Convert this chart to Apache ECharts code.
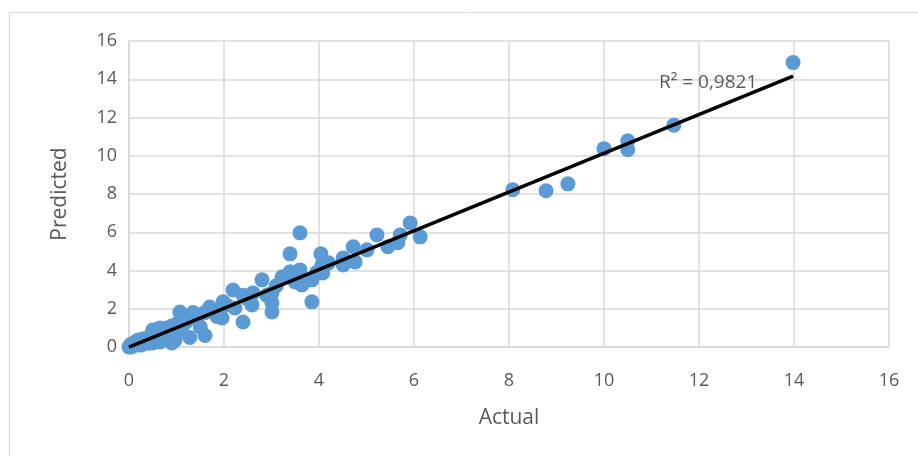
<!DOCTYPE html>
<html><head><meta charset="utf-8">
<script src="https://cdn.jsdelivr.net/npm/echarts@6/dist/echarts.min.js"></script>
<style>html,body{margin:0;padding:0;background:#fff}#c{width:918px;height:456px}</style>
</head><body><div id="c"></div>
<script>
const actual = [0,0.02,0.03,0.05,0.05,0.08,0.1,0.12,0.15,0.18,0.2,0.22,0.25,0.28,0.3,0.35,0.4,0.45,0.5,0.5,0.55,0.6,0.65,0.65,0.7,0.75,0.8,0.82,0.9,0.9,0.97,1.0,1.07,1.1,1.12,1.2,1.28,1.3,1.35,1.45,1.5,1.6,1.6,1.7,1.77,1.85,1.96,1.98,2.05,2.19,2.23,2.4,2.4,2.5,2.59,2.61,2.8,2.9,3.01,3.01,3.01,3.1,3.22,3.39,3.39,3.5,3.6,3.6,3.64,3.85,3.85,3.95,4.04,4.06,4.08,4.2,4.51,4.51,4.72,4.76,5.01,5.22,5.45,5.66,5.71,5.92,6.13,8.08,8.78,9.24,10.0,10.5,10.5,11.47,13.98];
const predicted = [0,0.05,0.1,0,0.15,0.05,0.2,0.1,0.3,0.15,0.37,0.25,0.1,0.4,0.3,0.45,0.2,0.55,0.89,0.21,0.35,0.7,0.26,1.0,0.6,0.9,1.0,0.45,0.21,1.1,0.37,1.2,1.83,0.9,1.5,1.3,0.5,1.5,1.8,1.6,1.05,0.6,1.8,2.09,1.9,1.6,1.52,2.36,2.2,2.98,2.04,1.31,2.7,2.5,2.2,2.83,3.51,2.7,2.83,1.83,2.3,3.2,3.66,3.93,4.87,3.4,4.03,5.97,3.25,3.51,2.36,3.9,4.87,4.29,3.87,4.4,4.66,4.29,5.24,4.45,5.08,5.86,5.24,5.45,5.86,6.49,5.76,8.22,8.17,8.53,10.37,10.78,10.31,11.6,14.87];
const xTicks = [0,2,4,6,8,10,12,14,16];
const yTicks = [0,2,4,6,8,10,12,14,16];
const r2Label = 'R² = 0,9821';
const xTitle = 'Actual', yTitle = 'Predicted';

const pts = actual.map((a,i)=>[a,predicted[i]]);
const n = pts.length;
const mx = actual.reduce((s,v)=>s+v,0)/n, my = predicted.reduce((s,v)=>s+v,0)/n;
let sxy=0,sxx=0; for(let i=0;i<n;i++){sxy+=(actual[i]-mx)*(predicted[i]-my);sxx+=(actual[i]-mx)**2;}
const slope=sxy/sxx, icpt=my-slope*mx;
const xmin=Math.min(...actual), xmax=Math.max(...actual);
const trend=[[xmin,icpt+slope*xmin],[xmax,icpt+slope*xmax]];

const font='"Open Sans", sans-serif';
const chart = echarts.init(document.getElementById('c'), null, {renderer:'canvas'});
chart.setOption({
  animation:false,
  grid:{left:129,right:29,top:41,bottom:109},
  xAxis:{type:'value',min:xTicks[0],max:xTicks[xTicks.length-1],interval:2,
    name:xTitle,nameLocation:'middle',nameGap:61,
    nameTextStyle:{fontFamily:font,fontSize:21,color:'#595959'},
    axisLine:{show:true,onZero:false,lineStyle:{color:'#D9D9D9',width:1.5}},
    axisTick:{show:false},
    axisLabel:{fontFamily:font,fontSize:18,color:'#595959',margin:25},
    splitLine:{show:true,lineStyle:{color:'#D9D9D9',width:1.5}}},
  yAxis:{type:'value',min:yTicks[0],max:yTicks[yTicks.length-1],interval:2,
    name:yTitle,nameLocation:'middle',nameGap:58,nameRotate:90,
    nameTextStyle:{fontFamily:font,fontSize:21,color:'#595959'},
    axisLine:{show:true,onZero:false,lineStyle:{color:'#D9D9D9',width:1.5}},
    axisTick:{show:false},
    axisLabel:{fontFamily:font,fontSize:18,color:'#595959',margin:12},
    splitLine:{show:true,lineStyle:{color:'#D9D9D9',width:1.5}}},
  series:[
    {type:'scatter',data:pts,symbolSize:15,itemStyle:{color:'#5B9BD5',opacity:1},z:2},
    {type:'line',data:trend,symbol:'none',lineStyle:{color:'#000',width:3.5},z:3}
  ],
  graphic:[
    {type:'rect',shape:{x:9.5,y:12.5,width:940,height:460},style:{fill:'none',stroke:'#D9D9D9',lineWidth:1},z:-1},
    {type:'text',left:659,top:73,style:{text:r2Label,fontFamily:font,fontSize:19,fill:'#595959'},z:10}
  ]
});
</script></body></html>
